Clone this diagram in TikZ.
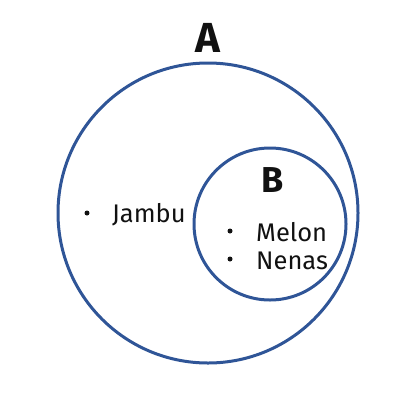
\documentclass[tikz,border=0pt]{standalone}
\usepackage{fontspec}
\setmainfont{Fira Sans}
\usetikzlibrary{positioning}
\definecolor{ring}{HTML}{2F5597}
\definecolor{txt}{HTML}{111111}

\begin{document}
\begin{tikzpicture}[
  x=1pt, y=-1pt,
  set/.style={circle, draw=ring, line width=3pt, minimum size=#1, inner sep=0pt},
  setname/.style={font=\fontsize{#1}{#1}\selectfont\bfseries, text=txt},
  elem/.style={font=\fontsize{25.5}{25.5}\selectfont, text=txt, inner sep=0pt, anchor=west},
  dot/.style={circle, fill=txt, minimum size=5pt, inner sep=0pt},
]
\useasboundingbox (0,0) rectangle (414,394);

% sets
\node[set=300pt] (setA) at (208,213) {};
\node[set=152pt] (setB) at (270,224) {};

\node[setname=42] (lblA) at (208,38) {A};
\node[setname=36] (lblB) at (273,180) {B};

% elements
\node[dot] (d1) at (87,213) {};
\node[elem] (jambu) at (112,215) {Jambu};
\node[dot] (d2) at (230,231) {};
\node[elem] (melon) at (256,232) {Melon};
\node[dot] (d3) at (230,259) {};
\node[elem] (nenas) at (256,261) {Nenas};

\end{tikzpicture}
\end{document}
